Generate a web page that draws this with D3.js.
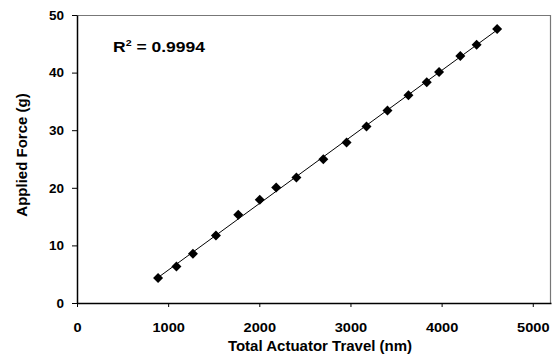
<!DOCTYPE html>
<html><head><meta charset="utf-8">
<script src="https://cdn.jsdelivr.net/npm/d3@7"></script>
<style>body{margin:0;background:#fff}svg{display:block}text{font-family:"Liberation Sans",Arial,sans-serif;font-weight:bold}</style>
</head><body><svg id="c" width="558" height="363"></svg>
<script>
const travel = [889,1091,1272,1524,1769,2005,2185,2407,2702,2957,3176,3406,3636,3837,3972,4205,4384,4609];
const force  = [4.34,6.35,8.55,11.72,15.31,17.92,20.05,21.78,24.97,27.85,30.63,33.40,36.07,38.33,40.11,42.89,44.85,47.57];
const xTicks = [0,1000,2000,3000,4000,5000];
const yTicks = [0,10,20,30,40,50];
const xTitle = "Total Actuator Travel (nm)";
const yTitle = "Applied Force (g)";
const r2Label = "0.9994";

const svg = d3.select("#c");
const L=77, T=15, R=551, B=303;
const x = d3.scaleLinear().domain([0,5200]).range([L,R]);
const y = d3.scaleLinear().domain([0,50]).range([B,T]);

// frame top/right
svg.append("line").attr("x1",L).attr("x2",R).attr("y1",T+0.5).attr("y2",T+0.5).attr("stroke","#777").attr("stroke-width",1.2);
svg.append("line").attr("x1",R-0.5).attr("x2",R-0.5).attr("y1",T).attr("y2",B).attr("stroke","#777").attr("stroke-width",1.2);

const xa = svg.append("g").attr("transform",`translate(0,${B})`)
  .call(d3.axisBottom(x).tickValues(xTicks).tickFormat(d3.format("d")).tickSize(4).tickSizeOuter(0).tickPadding(15));
const ya = svg.append("g").attr("transform",`translate(${L},0)`)
  .call(d3.axisLeft(y).tickValues(yTicks).tickFormat(d3.format("d")).tickSize(5).tickSizeOuter(0).tickPadding(8));
[xa,ya].forEach(a=>{
  a.selectAll("path").attr("stroke","#000").attr("stroke-width",1.5);
  a.selectAll("line").attr("stroke","#000");
  a.selectAll("text").attr("font-size",13.5).attr("font-family","Liberation Sans, Arial, sans-serif").attr("font-weight","bold").attr("fill","#000");
});
xa.selectAll("text").attr("transform","scale(1.08,1)");

// trendline (least squares of data)
const n=travel.length, mx=d3.mean(travel), my=d3.mean(force);
let sxy=0,sxx=0; for(let i=0;i<n;i++){sxy+=(travel[i]-mx)*(force[i]-my);sxx+=(travel[i]-mx)**2;}
const slope=sxy/sxx, icpt=my-slope*mx;
const x0=d3.min(travel), x1=d3.max(travel);
svg.append("line").attr("x1",x(x0)).attr("y1",y(icpt+slope*x0)).attr("x2",x(x1)).attr("y2",y(icpt+slope*x1))
  .attr("stroke","#000").attr("stroke-width",1);

const sym = d3.symbol().type(d3.symbolSquare).size(50);
svg.append("g").selectAll("path").data(travel).join("path")
  .attr("d",sym).attr("fill","#000")
  .attr("transform",(d,i)=>`translate(${x(d)},${y(force[i])}) rotate(45)`);

const t = svg.append("text").attr("transform","translate(113,52) scale(1.25,1)").attr("font-size",14).attr("fill","#000");
t.append("tspan").text("R");
t.append("tspan").attr("dy",-6).attr("font-size",8.5).text("2");
t.append("tspan").attr("dy",6).text(" = "+r2Label);

svg.append("text").attr("x",320).attr("y",351).attr("text-anchor","middle").attr("font-size",15).text(xTitle);
svg.append("text").attr("transform",`translate(27,155) rotate(-90)`).attr("text-anchor","middle").attr("font-size",15).text(yTitle);
</script></body></html>
